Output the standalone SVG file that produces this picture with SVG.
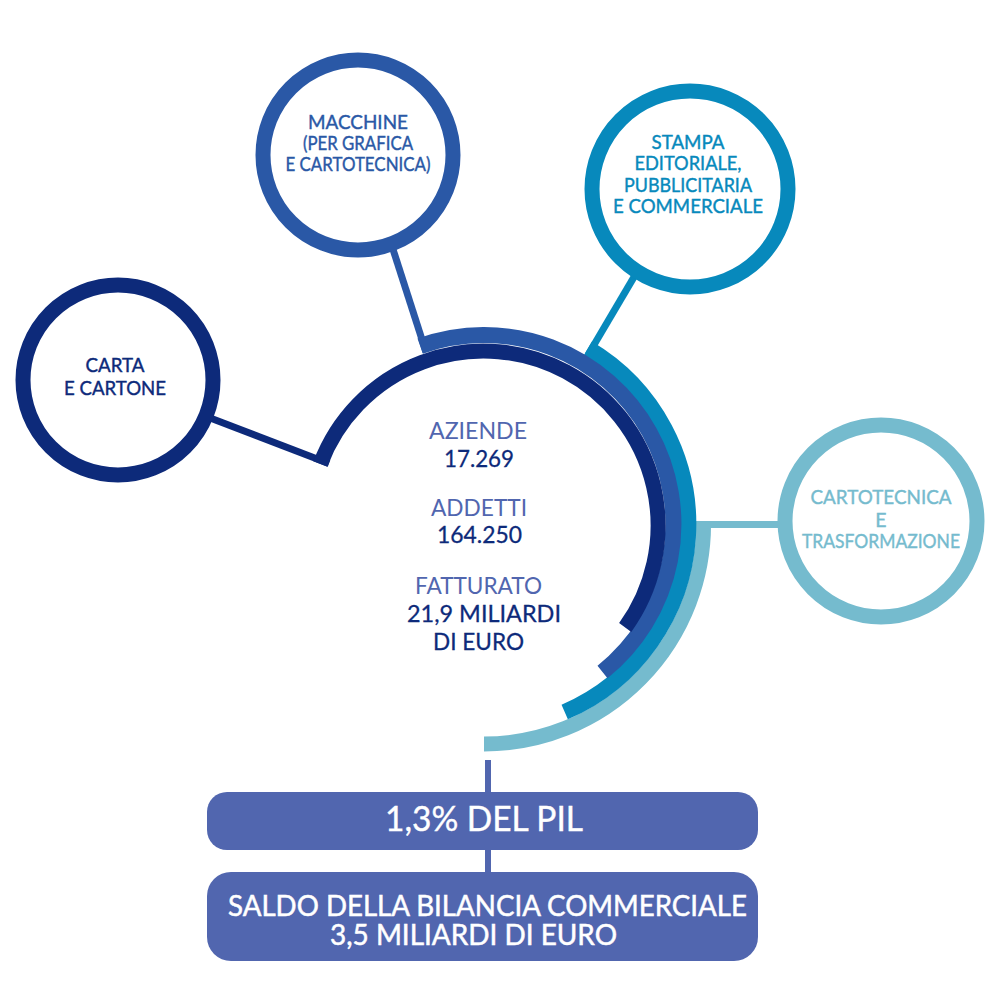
<svg xmlns="http://www.w3.org/2000/svg" width="1001" height="1001" viewBox="0 0 1001 1001">
<style>
text{font-family:"Lato","Noto Sans","Liberation Sans",sans-serif;text-anchor:middle}
.ring{fill:#fff;stroke-width:15}
.arc{fill:none;stroke-width:15}
.under{fill:none;stroke-width:16}
.c{fill:none;stroke-width:7}
.n{font-size:19.500px;font-weight:400;stroke-width:.4}
.m{font-size:24px}
.lab{fill:#5166af}
.val{fill:#0d2a7a;stroke:#0d2a7a;stroke-width:.3}
.box{fill:#5166af}
.w{fill:#fff;font-size:34px;stroke:#fff;stroke-width:.4}
.w2{fill:#fff;font-size:28px;stroke:#fff;stroke-width:.5}
</style>
<rect width="1001" height="1001" fill="#fff"/>
<g id="connectors">
<path class="c" d="M329 463.500L205 416" stroke="#0d2a7a"/>
<path class="c" d="M426 352L390 240" stroke="#2a58a6"/>
<path class="c" d="M588 355L641.300 264.600" stroke="#0789bc"/>
<path class="c" d="M696 524.500H785" stroke="#75bbce"/>
<path d="M488 760V795M488 848V875" fill="none" stroke="#5166af" stroke-width="6"/>
</g>
<g id="arcs">
<path class="arc" stroke="#75bbce" d="M703.500 521A219.500 219.500 0 0 1 484 744"/>
<path class="under" stroke="#0789bc" d="M587.900 348.400A204.300 204.300 0 0 1 564.700 712"/>
<path class="under" stroke="#2a58a6" d="M420.200 346.100A189.300 189.300 0 0 1 602.500 672"/>
<path class="arc" stroke="#0d2a7a" d="M320.300 464A174.500 174.500 0 1 1 625.200 627.500"/>
</g>
<g id="node-carta">
<circle class="ring" cx="118" cy="380" r="95" stroke="#0d2a7a"/>
<text class="n" fill="#0d2a7a" stroke="#0d2a7a"><tspan x="115" y="372" textLength="59" lengthAdjust="spacingAndGlyphs">CARTA</tspan><tspan x="115" y="395" textLength="102" lengthAdjust="spacingAndGlyphs">E CARTONE</tspan></text>
</g>
<g id="node-macchine">
<circle class="ring" cx="358" cy="155" r="95" stroke="#2a58a6"/>
<text class="n" fill="#2a58a6" stroke="#2a58a6"><tspan x="358" y="129" textLength="100" lengthAdjust="spacingAndGlyphs">MACCHINE</tspan><tspan x="358" y="150" textLength="110" lengthAdjust="spacingAndGlyphs">(PER GRAFICA</tspan><tspan x="358" y="171" textLength="145" lengthAdjust="spacingAndGlyphs">E CARTOTECNICA)</tspan></text>
</g>
<g id="node-stampa">
<circle class="ring" cx="690" cy="189" r="98" stroke="#0789bc"/>
<text class="n" fill="#0789bc" stroke="#0789bc"><tspan x="688" y="149" textLength="73" lengthAdjust="spacingAndGlyphs">STAMPA</tspan><tspan x="688" y="170" textLength="107" lengthAdjust="spacingAndGlyphs">EDITORIALE,</tspan><tspan x="688" y="192" textLength="128" lengthAdjust="spacingAndGlyphs">PUBBLICITARIA</tspan><tspan x="688" y="213" textLength="150" lengthAdjust="spacingAndGlyphs">E COMMERCIALE</tspan></text>
</g>
<g id="node-cartotecnica">
<circle class="ring" cx="881" cy="521" r="96" stroke="#75bbce"/>
<text class="n" fill="#75bbce" stroke="#75bbce"><tspan x="881" y="504" textLength="141" lengthAdjust="spacingAndGlyphs">CARTOTECNICA</tspan><tspan x="881" y="527">E</tspan><tspan x="881" y="548" textLength="158" lengthAdjust="spacingAndGlyphs">TRASFORMAZIONE</tspan></text>
</g>
<g id="node-centro">
<text class="m lab" x="478" y="439" textLength="98" lengthAdjust="spacingAndGlyphs">AZIENDE</text>
<text class="m val" x="479" y="467" textLength="70" lengthAdjust="spacingAndGlyphs">17.269</text>
<text class="m lab" x="479" y="516" textLength="96" lengthAdjust="spacingAndGlyphs">ADDETTI</text>
<text class="m val" x="479.500" y="543" textLength="85" lengthAdjust="spacingAndGlyphs">164.250</text>
<text class="m lab" x="478.500" y="594" textLength="127" lengthAdjust="spacingAndGlyphs">FATTURATO</text>
<text class="m val" x="484" y="622" textLength="154" lengthAdjust="spacingAndGlyphs">21,9 MILIARDI</text>
<text class="m val" x="478.500" y="650" textLength="91" lengthAdjust="spacingAndGlyphs">DI EURO</text>
</g>
<g id="node-pil">
<rect class="box" x="207" y="792" width="551" height="58" rx="20"/>
<text class="w" x="484" y="831" textLength="198" lengthAdjust="spacingAndGlyphs">1,3% DEL PIL</text>
</g>
<g id="node-saldo">
<rect class="box" x="207" y="872" width="551" height="89" rx="24"/>
<text class="w2" x="487.500" y="916" textLength="519" lengthAdjust="spacingAndGlyphs">SALDO DELLA BILANCIA COMMERCIALE</text>
<text class="w2" x="473.500" y="945" textLength="287" lengthAdjust="spacingAndGlyphs">3,5 MILIARDI DI EURO</text>
</g>
</svg>
